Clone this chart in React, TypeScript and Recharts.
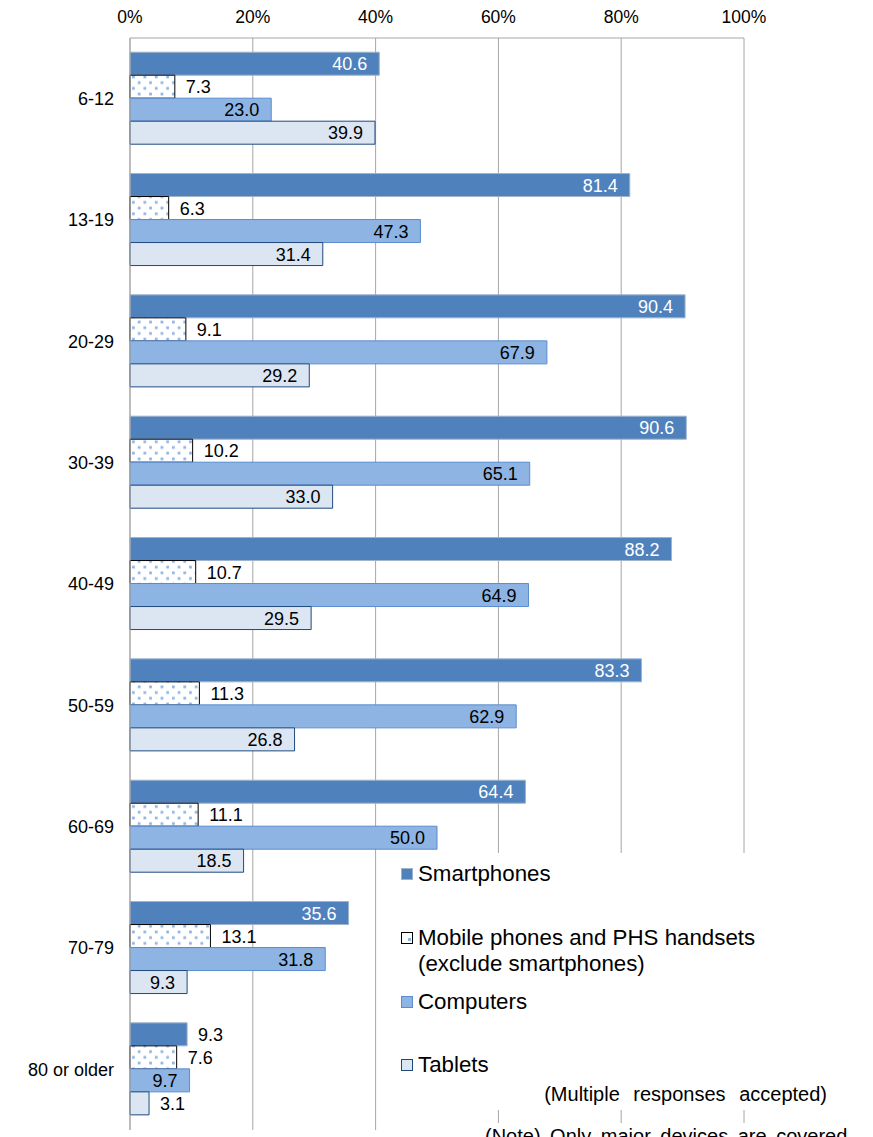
import {
  BarChart,
  Bar,
  XAxis,
  YAxis,
  CartesianGrid,
  Legend,
  LabelList,
} from "recharts";

const ageGroups = [
  "6-12",
  "13-19",
  "20-29",
  "30-39",
  "40-49",
  "50-59",
  "60-69",
  "70-79",
  "80 or older",
];

const smartphones = [40.6, 81.4, 90.4, 90.6, 88.2, 83.3, 64.4, 35.6, 9.3];
const mobilePhones = [7.3, 6.3, 9.1, 10.2, 10.7, 11.3, 11.1, 13.1, 7.6];
const computers = [23.0, 47.3, 67.9, 65.1, 64.9, 62.9, 50.0, 31.8, 9.7];
const tablets = [39.9, 31.4, 29.2, 33.0, 29.5, 26.8, 18.5, 9.3, 3.1];

const xTicks = [0, 20, 40, 60, 80, 100];

const data = ageGroups.map((age, i) => ({
  age,
  smartphones: smartphones[i],
  mobilePhones: mobilePhones[i],
  computers: computers[i],
  tablets: tablets[i],
}));

const FONT = '"Liberation Sans", Arial, sans-serif';
const GRID = "#A6A6A6";

// label drawn inside the bar end, or just outside when the bar is short
function makeLabel(insideMin: number, insideColor: string) {
  return (props: any) => {
    const { x, y, width, height, value } = props;
    const inside = value >= insideMin;
    return (
      <text
        x={inside ? x + width - 12 : x + width + 11}
        y={y + height / 2}
        dy="0.36em"
        textAnchor={inside ? "end" : "start"}
        fill={inside ? insideColor : "#000"}
        fontSize={18}
        fontFamily={FONT}
      >
        {Number(value).toFixed(1)}
      </text>
    );
  };
}

const legendItems = [
  { name: "Smartphones", top: 8, markTop: 15, fill: "#4F81BD", stroke: "#9FB3CC" },
  {
    name: "Mobile phones and PHS handsets (exclude smartphones)",
    top: 72,
    markTop: 79,
    fill: "#FFFFFF",
    stroke: "#000",
    dot: true,
  },
  { name: "Computers", top: 136, markTop: 143, fill: "#8DB4E2", stroke: "#5B8BD0" },
  { name: "Tablets", top: 199, markTop: 206, fill: "#DCE6F2", stroke: "#1F497D" },
];

function renderLegend() {
  return (
    <div
      style={{
        position: "relative",
        width: 475,
        height: 257,
        background: "#fff",
        fontFamily: FONT,
        color: "#000",
      }}
    >
      {legendItems.map((it) => (
        <div key={it.name}>
          <div
            style={{
              position: "absolute",
              left: 16,
              top: it.markTop,
              width: 10,
              height: 10,
              background: it.fill,
              border: `1px solid ${it.stroke}`,
            }}
          >
            {it.dot && (
              <div
                style={{
                  position: "absolute",
                  left: 6,
                  top: 5,
                  width: 2.5,
                  height: 2.5,
                  background: "#8DB4E2",
                }}
              />
            )}
          </div>
          <div
            style={{
              position: "absolute",
              left: 33,
              top: it.top,
              width: 345,
              fontSize: 22.3,
              lineHeight: "26px",
            }}
          >
            {it.name}
          </div>
        </div>
      ))}
      <div
        style={{
          position: "absolute",
          left: 0,
          top: 228,
          width: 442,
          textAlign: "right",
          fontSize: 20,
          lineHeight: "26px",
          wordSpacing: 8,
          whiteSpace: "nowrap",
        }}
      >
        (Multiple responses accepted)
      </div>
    </div>
  );
}

export default function App() {
  return (
    <div
      style={{
        position: "absolute",
        left: 0,
        top: 0,
        width: 873,
        height: 1137,
        overflow: "hidden",
        background: "#fff",
        fontFamily: FONT,
      }}
    >
      <BarChart
        width={873}
        height={1160}
        data={data}
        layout="vertical"
        margin={{ top: 0, right: 129, bottom: 30, left: 0 }}
        barCategoryGap={14.2}
        barGap={0}
        style={{ fontFamily: FONT }}
      >
        <defs>
          <pattern
            id="dots"
            width="11.4"
            height="11.4"
            patternUnits="userSpaceOnUse"
          >
            <rect width="11.4" height="11.4" fill="#fff" />
            <rect x="1" y="1.5" width="2.7" height="2.7" fill="#8DB4E2" />
            <rect x="6.7" y="7.2" width="2.7" height="2.7" fill="#8DB4E2" />
          </pattern>
        </defs>

        <CartesianGrid horizontal={false} stroke={GRID} />

        <XAxis
          type="number"
          orientation="top"
          domain={[0, 100]}
          ticks={xTicks}
          height={38}
          tickSize={0}
          tickMargin={15.5}
          axisLine={{ stroke: GRID }}
          tickFormatter={(v) => `${v}%`}
          tick={{ fontSize: 17.5, fill: "#000" }}
        />

        <YAxis
          type="category"
          dataKey="age"
          width={130}
          tickSize={0}
          tickMargin={16}
          axisLine={{ stroke: GRID }}
          tick={{ fontSize: 18, fill: "#000" }}
        />

        <Legend
          layout="vertical"
          align="center"
          verticalAlign="middle"
          wrapperStyle={{ left: 385, top: 853, width: 475, height: 257 }}
          content={renderLegend}
        />

        <Bar
          dataKey="smartphones"
          name="Smartphones"
          fill="#4F81BD"
          stroke="#9FB3CC"
          isAnimationActive={false}
        >
          <LabelList dataKey="smartphones" content={makeLabel(15, "#fff")} />
        </Bar>
        <Bar
          dataKey="mobilePhones"
          name="Mobile phones and PHS handsets (exclude smartphones)"
          fill="url(#dots)"
          stroke="#000"
          isAnimationActive={false}
        >
          <LabelList
            dataKey="mobilePhones"
            content={makeLabel(Infinity, "#000")}
          />
        </Bar>
        <Bar
          dataKey="computers"
          name="Computers"
          fill="#8DB4E2"
          stroke="#5B8BD0"
          isAnimationActive={false}
        >
          <LabelList dataKey="computers" content={makeLabel(5, "#000")} />
        </Bar>
        <Bar
          dataKey="tablets"
          name="Tablets"
          fill="#DCE6F2"
          stroke="#1F497D"
          isAnimationActive={false}
        >
          <LabelList dataKey="tablets" content={makeLabel(5, "#000")} />
        </Bar>
      </BarChart>

      <div
        style={{
          position: "absolute",
          left: 485,
          top: 1123,
          fontSize: 20,
          lineHeight: "26px",
          wordSpacing: 4,
          whiteSpace: "nowrap",
          color: "#000",
          background: "#fff",
        }}
      >
        (Note) Only major devices are covered
      </div>
    </div>
  );
}
